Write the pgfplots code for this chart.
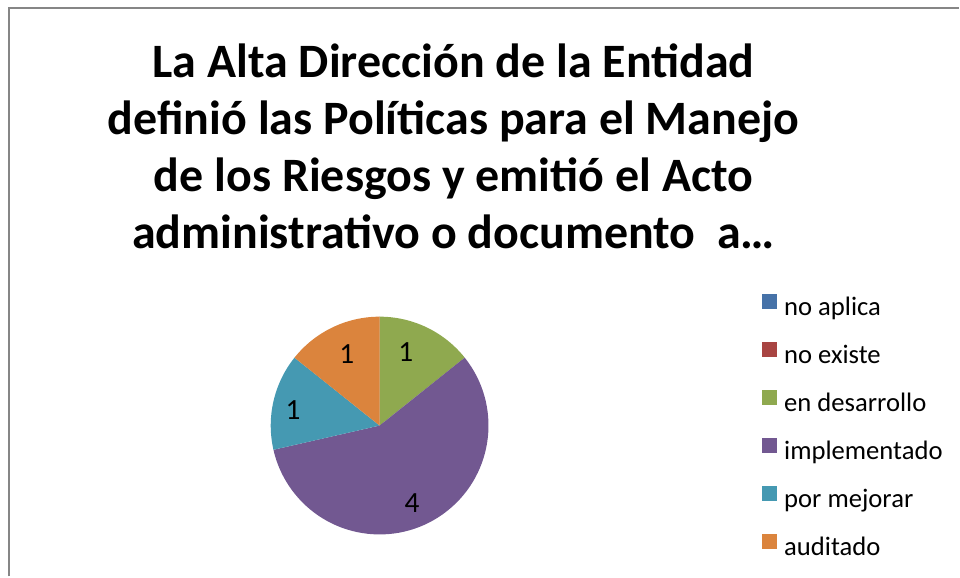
\documentclass[border=0pt]{standalone}
\usepackage{pgfplots}
\pgfplotsset{compat=1.18}
\usepackage{pgfplotstable}
\usepackage{fontspec}
\setmainfont{Carlito}
\definecolor{cblue}{HTML}{4672A8}
\definecolor{cred}{HTML}{A84442}
\definecolor{cgreen}{HTML}{8FA94F}
\definecolor{cpurple}{HTML}{725891}
\definecolor{cteal}{HTML}{4599B2}
\definecolor{corange}{HTML}{DB843D}
\definecolor{cborder}{HTML}{868686}
\begin{document}
\pgfplotstableread[col sep=comma]{
cat,val
no aplica,0
no existe,0
en desarrollo,1
implementado,4
por mejorar,1
auditado,1
}\piedata
\begin{tikzpicture}
% totals and cumulative angles (clockwise from 12 o'clock)
\xdef\total{0}
\foreach \i in {0,...,5}{%
  \pgfplotstablegetelem{\i}{val}\of\piedata
  \pgfmathsetmacro\t{\total+\pgfplotsretval}%
  \xdef\total{\t}%
}
\xdef\cum{90}
\foreach \i/\n in {0/A,1/B,2/C,3/D,4/E,5/F}{%
  \pgfplotstablegetelem{\i}{val}\of\piedata
  \pgfmathsetmacro\e{\cum-360*\pgfplotsretval/\total}%
  \pgfmathsetmacro\m{(\cum+\e)/2}%
  \expandafter\xdef\csname s\n\endcsname{\cum}%
  \expandafter\xdef\csname e\n\endcsname{\e}%
  \expandafter\xdef\csname m\n\endcsname{\m}%
  \pgfmathtruncatemacro\vv{\pgfplotsretval}%
  \expandafter\xdef\csname v\n\endcsname{\vv}%
  \xdef\cum{\e}%
}
\begin{axis}[
  at={(0,0)}, anchor=origin,
  x=0.75pt, y=0.75pt,
  xmin=0, xmax=960, ymin=0, ymax=577,
  enlargelimits=false,
  hide axis, clip=false,
  legend image code/.code={\fill[#1] (0pt,-0.3pt) rectangle (11pt,10.7pt); \path (16.5pt,0pt);},
  legend style={at={(axis cs:763,282.4)}, anchor=north west, draw=none, fill=none,
    inner sep=0pt, outer sep=0pt, row sep=16.35pt, font=\fontsize{20pt}{24pt}\selectfont,
    nodes={inner sep=0pt, text height=14pt, text depth=4pt},
    cells={anchor=west}},
]
\path (axis cs:0,0) rectangle (axis cs:960,577);
\draw[cborder, line width=1.5pt] (axis cs:9.5,0) -- (axis cs:9.5,568.5) -- (axis cs:960,568.5);
% title
\begin{scope}[every node/.style={font=\fontsize{36pt}{43pt}\selectfont\bfseries, anchor=base, inner sep=0pt}]
\node at (axis cs:454,499) {La Alta Dirección de la Entidad};
\node at (axis cs:454,442) {definió las Políticas para el Manejo};
\node at (axis cs:454,385) {de los Riesgos y emitió el Acto};
\node at (axis cs:454,328) {administrativo o documento\ \ a…};
\end{scope}
% pie sectors
\fill[cblue]   (axis cs:380,151) -- ++(\sA:81.75pt) arc[start angle=\sA, end angle=\eA, radius=81.75pt] -- cycle;
\fill[cred]    (axis cs:380,151) -- ++(\sB:81.75pt) arc[start angle=\sB, end angle=\eB, radius=81.75pt] -- cycle;
\fill[cgreen]  (axis cs:380,151) -- ++(\sC:81.75pt) arc[start angle=\sC, end angle=\eC, radius=81.75pt] -- cycle;
\fill[cpurple] (axis cs:380,151) -- ++(\sD:81.75pt) arc[start angle=\sD, end angle=\eD, radius=81.75pt] -- cycle;
\fill[cteal]   (axis cs:380,151) -- ++(\sE:81.75pt) arc[start angle=\sE, end angle=\eE, radius=81.75pt] -- cycle;
\fill[corange] (axis cs:380,151) -- ++(\sF:81.75pt) arc[start angle=\sF, end angle=\eF, radius=81.75pt] -- cycle;
% data labels
\begin{scope}[every node/.style={font=\fontsize{22pt}{26pt}\selectfont}]
\path (axis cs:380,151) ++(\mC+6:58.5pt) node {\vC};
\path (axis cs:380,151) ++(\mD-3:63pt) node {\vD};
\path (axis cs:380,151) ++(\mE+3:66pt) node {\vE};
\path (axis cs:380,151) ++(\mF-1:59pt) node {\vF};
\end{scope}
% legend
\addlegendimage{fill=cblue, draw=none}\addlegendentry{no aplica}
\addlegendimage{fill=cred, draw=none}\addlegendentry{no existe}
\addlegendimage{fill=cgreen, draw=none}\addlegendentry{en desarrollo}
\addlegendimage{fill=cpurple, draw=none}\addlegendentry{implementado}
\addlegendimage{fill=cteal, draw=none}\addlegendentry{por mejorar}
\addlegendimage{fill=corange, draw=none}\addlegendentry{auditado}
\end{axis}
\end{tikzpicture}
\end{document}
